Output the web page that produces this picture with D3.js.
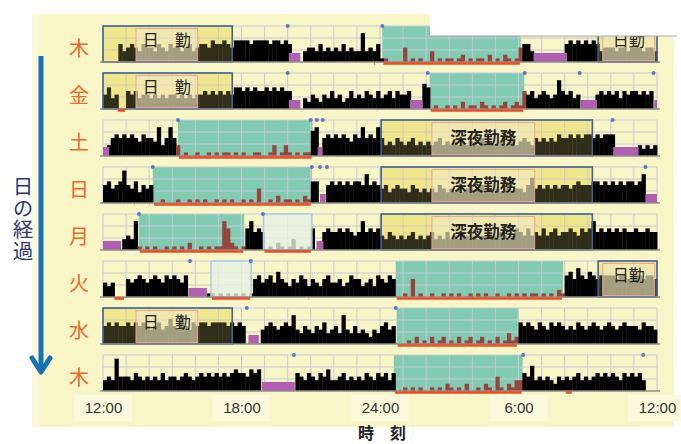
<!DOCTYPE html>
<html>
<head>
<meta charset="utf-8">
<script src="https://cdn.jsdelivr.net/npm/d3@7"></script>
<style>
  body { margin: 0; background: #fff; }
  svg { display: block; }
</style>
</head>
<body>
<svg id="chart" width="681" height="444"></svg>
<script>
// days, top to bottom
const days = ["木", "金", "土", "日", "月", "火", "水", "木"];

// time axis (hours after 12:00)
const hourTicks = [0, 6, 12, 18, 24];
const tickLabels = ["12:00", "18:00", "24:00", "6:00", "12:00"];

// activity counts, one digit per 10 min, 6 per hour, starting 12:00
const activity = [
  "000053 454354 435435 453453 455465 565466 665666 656656 500034 435343 435343 383435 110000 401010 030101 101201 011020 102101 455300 000000 565656 565344 434434 443443",
  "463400 545344 343434 434343 445454 545466 565655 656565 500032 432435 342353 435435 345354 450007 601001 010201 102101 012012 154534 543485 453400 004545 453545 545450",
  "035656 565465 548358 530100 100101 011010 100110 013013 101011 780565 656546 585658 534354 345343 434534 343434 435343 343453 454354 545465 565656 656566 600000 032323",
  "564569 546354 500100 010010 101001 010100 101040 010201 101021 660056 565656 658565 453454 435434 343543 434345 345343 434534 435745 454545 545655 566565 656566 568000",
  "000003 438101 010010 101020 010101 186210 168565 010210 130101 600565 565654 585656 435434 345343 453435 343543 434354 354346 546454 645645 565465 685656 565655 655655",
  "434000 545654 565465 654600 000110 101010 101564 564754 354653 543564 453465 534536 546500 105010 010010 101001 010100 100101 010110 101021 675865 765666 656656 665665",
  "565655 656565 456457 548546 566566 665656 500004 565456 584354 354634 538435 343243 564500 010201 020120 102012 012010 201312 656546 546565 454654 565456 545655 546554",
  "343944 435434 343534 434543 454545 454565 546560 000000 005435 435463 345343 435435 453500 101010 010102 101020 010210 410213 354734 343243 434534 345454 543545 453000"
];

// [day, start, end] in hours after 12:00
const sleeps = [[0, 12.1, 18.1], [1, 14.15, 18.25], [2, 3.25, 9.08], [3, 2.16, 9.05],
  [4, 1.55, 6.12], [5, 12.68, 19.93], [6, 12.72, 17.97], [7, 12.6, 18.18]];
const naps = [[4, 6.95, 9.05], [5, 4.68, 6.42]];
const offWrist = [[0, 8.05, 8.55], [0, 18.65, 20.1], [1, 8.05, 8.55], [1, 13.3, 13.85], [1, 20.7, 21.4],
  [1, 23.88, 24], [2, 0, 0.27], [2, 9.3, 9.5], [2, 22.1, 23.2], [3, 9.4, 9.65], [3, 23.5, 24],
  [4, 0, 0.78], [4, 9.25, 9.55], [5, 3.7, 4.5], [6, 6.3, 6.75], [7, 6.88, 8.31]];
const extraRed = [[0, 11.7, 11.82], [1, 0.6, 1.0], [1, 11.85, 11.95], [3, 1.3, 1.4], [3, 1.95, 2.05],
  [5, 0.45, 0.95], [5, 8.85, 8.95], [7, 20.0, 20.35]];
// [day, hour]
const markers = [[0, 8.0], [0, 12.1], [1, 8.0], [1, 14.07], [1, 18.27], [1, 20.65], [1, 23.85],
  [2, 3.25], [2, 9.0], [2, 9.26], [2, 9.52], [2, 22.08], [3, 2.16], [3, 9.05], [3, 9.4], [3, 9.7], [3, 23.5],
  [4, 1.56], [4, 6.93], [5, 3.77], [5, 6.4], [6, 6.23], [6, 12.68], [7, 8.27], [7, 18.2], [7, 23.4]];
// [day, start, end, label start, label end, label, night]
const shifts = [
  [0, 0, 5.6, 1.43, 4.1, "日　勤", false],
  [0, 21.45, 24, 21.65, 23.9, "日勤", false],
  [1, 0, 5.6, 1.43, 4.1, "日　勤", false],
  [2, 12.05, 21.2, 14.25, 18.7, "深夜勤務", true],
  [3, 12.05, 21.2, 14.25, 18.7, "深夜勤務", true],
  [4, 12.05, 21.2, 14.25, 18.7, "深夜勤務", true],
  [5, 21.45, 24, 21.65, 23.9, "日勤", false],
  [6, 0, 5.6, 1.43, 4.1, "日　勤", false]
];

const svg = d3.select("#chart");
const font = "'Noto Sans CJK JP', 'Noto Sans', sans-serif";

const x = d3.scaleLinear().domain([0, 24]).range([103, 657]);
const rowTop = d3.scaleLinear().domain([0, 7]).range([26, 355]);
const rowH = 36;
const y = d3.scaleLinear().domain([0, 10]).range([rowH, 0]);

// panel
svg.append("rect").attr("x", 32).attr("y", 14).attr("width", 642).attr("height", 413).attr("fill", "#f8f5c6");
svg.append("rect").attr("x", 32).attr("y", 14).attr("width", 7).attr("height", 413).attr("fill", "#fbf9dc");

const rows = svg.selectAll("g.row").data(days).enter().append("g")
  .attr("class", "row")
  .attr("transform", (d, i) => "translate(0," + rowTop(i) + ")");

const forRow = (list, i) => list.filter(d => d[0] === i);

rows.each(function (day, i) {
  const g = d3.select(this);

  // shift box background
  g.selectAll("rect.shiftbg").data(forRow(shifts, i)).enter().append("rect")
    .attr("x", d => x(d[1])).attr("y", 0)
    .attr("width", d => x(d[2]) - x(d[1])).attr("height", rowH)
    .attr("fill", "#f6ee94");

  // sleep
  g.selectAll("rect.sleep").data(forRow(sleeps, i)).enter().append("rect")
    .attr("x", d => x(d[1])).attr("y", 0)
    .attr("width", d => x(d[2]) - x(d[1])).attr("height", rowH)
    .attr("fill", "#80cbb2");

  // grid
  g.selectAll("line.v").data(d3.range(0, 25)).enter().append("line")
    .attr("x1", d => x(d)).attr("x2", d => x(d)).attr("y1", 0).attr("y2", rowH)
    .attr("stroke", "#c9c8d6").attr("stroke-width", 1);
  g.selectAll("line.h").data([10 / 3, 20 / 3, 10]).enter().append("line")
    .attr("x1", x(0)).attr("x2", x(24)).attr("y1", d => y(d)).attr("y2", d => y(d))
    .attr("stroke", "#c9c8d6").attr("stroke-width", 1);

  // activity
  const vals = activity[i].replace(/ /g, "").split("").map(Number);
  const bw = x(1 / 6) - x(0);
  const asleep = h => sleeps.some(s => s[0] === i && h >= s[1] && h <= s[2]);
  g.selectAll("rect.act").data(vals).enter().append("rect")
    .attr("x", (v, k) => x(k / 6)).attr("y", v => y(v))
    .attr("width", bw + 0.4).attr("height", v => rowH - y(v))
    .attr("fill", (v, k) => asleep(k / 6 + 1 / 12) ? "#94463a" : "#000");

  // off-wrist
  g.selectAll("rect.off").data(forRow(offWrist, i)).enter().append("rect")
    .attr("x", d => x(d[1])).attr("y", rowH - 9)
    .attr("width", d => x(d[2]) - x(d[1])).attr("height", 9)
    .attr("fill", "#b05fb2");

  // shift overlays
  const sh = g.selectAll("g.shift").data(forRow(shifts, i)).enter().append("g");
  sh.append("rect")
    .attr("x", d => x(d[1])).attr("y", 0)
    .attr("width", d => x(d[2]) - x(d[1])).attr("height", rowH)
    .attr("fill", "#dccf6e").attr("opacity", 0.22);
  sh.append("rect")
    .attr("x", d => x(d[3])).attr("y", 2.5)
    .attr("width", d => x(d[4]) - x(d[3])).attr("height", rowH - 4)
    .attr("fill", "#f0e9c4").attr("fill-opacity", 0.6)
    .attr("stroke", "#e6a49a").attr("stroke-width", 1);
  sh.append("rect")
    .attr("x", d => x(d[1])).attr("y", 0)
    .attr("width", d => x(d[2]) - x(d[1])).attr("height", rowH)
    .attr("fill", "none").attr("stroke", "#3f6196").attr("stroke-width", 1.6);
  sh.append("text")
    .attr("x", d => x((d[3] + d[4]) / 2))
    .attr("y", d => d[6] ? 17 : 12.5)
    .attr("dominant-baseline", "central")
    .attr("text-anchor", "middle")
    .attr("font-family", font)
    .attr("font-size", d => d[6] ? 16.5 : 16)
    .attr("font-weight", d => d[6] ? "bold" : "normal")
    .attr("fill", "#222")
    .text(d => d[5]);

  // naps
  g.selectAll("rect.nap").data(forRow(naps, i)).enter().append("rect")
    .attr("x", d => x(d[1])).attr("y", 0)
    .attr("width", d => x(d[2]) - x(d[1])).attr("height", rowH)
    .attr("fill", "#e4f1e4").attr("fill-opacity", 0.8)
    .attr("stroke", "#a9cde3").attr("stroke-width", 1.5);

  // baseline
  g.append("line").attr("x1", 100).attr("x2", 660).attr("y1", rowH).attr("y2", rowH)
    .attr("stroke", "#8e8e8e").attr("stroke-width", 1.5);

  // red sleep marks
  const reds = forRow(sleeps, i).concat(forRow(naps, i), forRow(extraRed, i));
  g.selectAll("line.red").data(reds).enter().append("line")
    .attr("x1", d => x(d[1]) + 1).attr("x2", d => x(d[2]) - 1)
    .attr("y1", rowH + 1.5).attr("y2", rowH + 1.5)
    .attr("stroke", "#ef4a24").attr("stroke-width", 2.5);

  // event markers
  g.selectAll("circle.mk").data(forRow(markers, i)).enter().append("circle")
    .attr("cx", d => x(d[1])).attr("cy", 0).attr("r", 2)
    .attr("fill", "#5a78c8");

  // day label
  g.append("text")
    .attr("x", 79).attr("y", 21)
    .attr("dominant-baseline", "central").attr("text-anchor", "middle")
    .attr("font-family", font).attr("font-size", 20)
    .attr("fill", "#e86a28")
    .text(day);
});

// white box top right
svg.append("rect").attr("x", 430).attr("y", 0).attr("width", 251).attr("height", 36).attr("fill", "#fff");
svg.append("line").attr("x1", 430).attr("x2", 677).attr("y1", 36).attr("y2", 36)
  .attr("stroke", "#aaa").attr("stroke-width", 1.2);

// time axis
svg.selectAll("rect.tickbg").data(hourTicks).enter().append("rect")
  .attr("x", d => x(d) - 29).attr("y", 395).attr("width", 58).attr("height", 26)
  .attr("fill", "#fbf9dc");
const axis = svg.append("g").attr("transform", "translate(0,402)")
  .call(d3.axisBottom(x).tickValues(hourTicks).tickFormat((d, i) => tickLabels[i]).tickSize(0).tickPadding(0));
axis.select(".domain").remove();
axis.selectAll("text").attr("font-family", "'Liberation Sans', Arial, sans-serif")
  .attr("font-size", 15).attr("fill", "#333");

svg.append("text").attr("x", 382).attr("y", 432).attr("text-anchor", "middle")
  .attr("dominant-baseline", "central")
  .attr("font-family", font).attr("font-size", 16).attr("font-weight", "bold").attr("fill", "#222")
  .text("時　刻");

// arrow and vertical caption
svg.append("line").attr("x1", 41).attr("x2", 41).attr("y1", 56).attr("y2", 371)
  .attr("stroke", "#1670b5").attr("stroke-width", 5);
svg.append("polyline").attr("points", "32,358 41,372 50,358")
  .attr("fill", "none").attr("stroke", "#1670b5").attr("stroke-width", 5)
  .attr("stroke-linecap", "round").attr("stroke-linejoin", "round");
svg.append("text")
  .attr("x", 23).attr("y", 176)
  .attr("writing-mode", "vertical-rl")
  .attr("text-anchor", "start")
  .attr("letter-spacing", 1)
  .attr("font-family", font).attr("font-size", 20.5).attr("fill", "#2b356e")
  .text("日の経過");
</script>
</body>
</html>
